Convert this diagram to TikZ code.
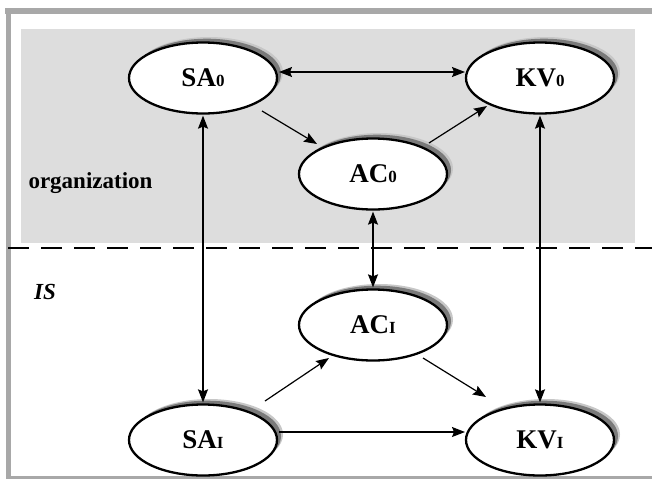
\documentclass[tikz,border=0pt]{standalone}
\usepackage{fontspec}
\setmainfont{Liberation Serif}
\usetikzlibrary{arrows.meta,shapes.geometric,backgrounds}

\definecolor{panel}{RGB}{221,221,221}
\definecolor{frame}{RGB}{168,168,168}

% small index set after an entity name
\newcommand{\idx}[1]{{\fontsize{17}{17}\selectfont #1}}

\begin{document}
\begin{tikzpicture}[x=1pt,y=-1pt,
  entity/.style={ellipse, draw=black, line width=2.3pt, fill=white,
    minimum width=148pt, minimum height=71pt, inner sep=0pt,
    font=\bfseries\fontsize{27}{27}\selectfont},
  softshade/.style={fill=black!22},
  darkshade/.style={fill=black!52},
  tip/.tip={Stealth[length=13pt,width=10pt,inset=2pt]},
  link/.style={line width=1.2pt, -tip},
  twoway/.style={line width=1.2pt, tip-tip},
  sep/.style={line width=2.4pt, dash pattern=on 21pt off 12pt},
  region/.style={font=\bfseries\fontsize{23}{23}\selectfont}]
\useasboundingbox (0,0) rectangle (652,479);

% entities
\node[entity] (SA0) at (203,78)  {SA\idx{0}};
\node[entity] (KV0) at (540,78)  {KV\idx{0}};
\node[entity] (AC0) at (373,174) {AC\idx{0}};
\node[entity] (AC1) at (373,325) {AC\idx{I}};
\node[entity] (SA1) at (203,440) {SA\idx{I}};
\node[entity] (KV1) at (540,440) {KV\idx{I}};

\begin{pgfonlayer}{background}
  % outer frame and shaded organization layer
  \fill[white] (0,0) rectangle (652,479);
  \fill[frame] (5,8) rectangle (652,14);
  \fill[frame] (6,8) rectangle (11,479);
  \fill[frame] (11,476) rectangle (652,479);
  \fill[panel] (21,29) rectangle (635,243);
  \draw[sep] (8,248) -- (652,248);
  % offset shadows behind the entities
  \foreach \e in {SA0,KV0,AC0,AC1,SA1,KV1}{
    \fill[softshade] ([shift={(6,-5.5)}]\e.center) ellipse [x radius=74, y radius=35.5];
    \fill[darkshade] ([shift={(4,-3.8)}]\e.center) ellipse [x radius=74, y radius=35.5];
  }
\end{pgfonlayer}

% layer labels
\node[region, anchor=west] (org) at (25,183) {organization};
\node[region, font=\bfseries\itshape\fontsize{23}{23}\selectfont] (is) at (45,292) {IS};

% relations
\draw[twoway] ([shift={(76,-6)}]SA0.center) -- ([shift={(-75,-6)}]KV0.center);
\draw[link] ([shift={(59,33)}]SA0.center) -- ([shift={(-56,-30)}]AC0.center);
\draw[link] ([shift={(56,-31)}]AC0.center) -- ([shift={(-53,28)}]KV0.center);
\draw[twoway] ([yshift=-1pt]SA0.south) -- ([yshift=1pt]SA1.north);
\draw[twoway] ([yshift=-1pt]AC0.south) -- ([yshift=1pt]AC1.north);
\draw[twoway] ([yshift=-1pt]KV0.south) -- ([yshift=1pt]KV1.north);
\draw[link] ([shift={(62,-39)}]SA1.center) -- ([shift={(-44,33)}]AC1.center);
\draw[link] ([shift={(50,33)}]AC1.center) -- ([shift={(-54,-43)}]KV1.center);
\draw[link] ([shift={(76,-8)}]SA1.center) -- ([shift={(-75,-8)}]KV1.center);
\end{tikzpicture}
\end{document}
